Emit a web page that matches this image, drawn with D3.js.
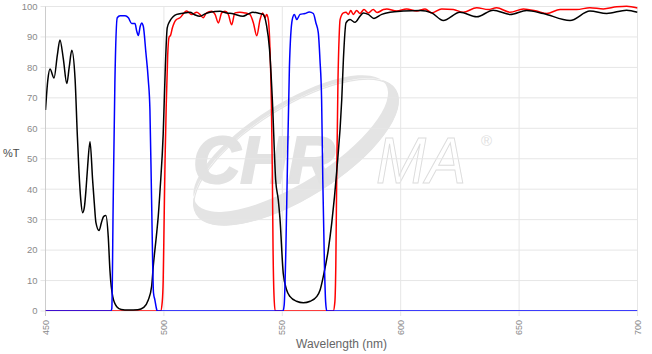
<!DOCTYPE html>
<html>
<head>
<meta charset="utf-8">
<script src="https://cdn.jsdelivr.net/npm/d3@7"></script>
<style>
  body { margin: 0; background: #fff; }
  svg { display: block; font-family: "Liberation Sans", Arial, sans-serif; }
</style>
</head>
<body>
<div id="chart"></div>
<script>
// tick values
const xTicks = [450, 500, 550, 600, 650, 700];
const yTicks = [0, 10, 20, 30, 40, 50, 60, 70, 80, 90, 100];

// black curve (wavelength, %T)
const blackCurve = [
  [450, 66], [451, 76], [451.9, 79.5], [453.6, 76.5], [455, 84], [456.1, 89], [457.5, 83],
  [459, 74.7], [460, 80], [461.1, 85.6], [462.5, 76], [463.4, 58.5], [464.1, 46.4],
  [464.9, 36.5], [465.7, 32.3], [466.4, 34], [467.1, 39.8], [467.7, 46.4], [468.8, 55.6],
  [469.9, 43], [470.6, 35.5], [471.3, 29], [472.6, 26.4], [473.6, 29], [474.5, 31],
  [475.5, 31.4], [476.5, 24.4], [477.2, 13.5], [478.4, 4.7], [480.1, 1.4], [482, 0.5],
  [485, 0.3], [489, 0.4], [491.5, 1.2], [493.4, 3.6], [494.8, 8], [495.5, 14.6], [497, 26],
  [497.6, 31], [498.4, 40], [499.7, 58], [500.6, 80], [501.4, 93], [502.5, 95.2],
  [505.4, 97.4], [508, 97.8], [511, 98.1], [513, 97.3], [515.2, 96.8], [517.5, 97.6],
  [519.5, 98.1], [523.7, 98.4], [526.5, 97.9], [529.2, 97.6], [533.4, 96.8], [535.5, 97.5],
  [537.6, 98.1], [540, 97.8], [541.9, 97.4], [543.3, 94], [544.6, 86], [545.8, 69.4],
  [547.2, 43], [548.3, 36.5], [549, 30.5], [550.4, 12.4], [551.8, 7], [553.3, 4.7],
  [556, 3.2], [558.9, 2.7], [561.8, 3.2], [564.5, 4.7], [566, 7], [567.3, 11.3],
  [569.4, 20], [570.9, 29], [573, 46], [575.1, 69.4], [575.8, 82.6], [576.9, 94.6],
  [578.6, 95.7], [580.7, 94.8], [582.8, 96.8], [584.2, 97.9], [586.3, 97.4], [588.7, 96.1],
  [592, 97.4], [595.5, 98.1], [601.1, 98.5], [608.1, 98.7], [613.1, 97.9], [618, 95.4],
  [625, 98.1], [632.1, 96.6], [639.1, 98.8], [646.2, 97.4], [653.2, 98.7], [660.2, 97.7],
  [671.5, 95.4], [679.9, 98.5], [687, 97.7], [695.4, 98.8], [700, 98.1]
];

// red curve
const redCurve = [
  [450, 0], [498.6, 0], [499.3, 3], [499.7, 10], [500.1, 30], [500.5, 50], [501, 68],
  [501.6, 84], [502.2, 90], [502.8, 90.5], [503.6, 93], [505, 95.5], [506.8, 96.3],
  [509.6, 98.5], [511.7, 97.4], [513.9, 98.1], [515.2, 97.4], [516.6, 96.3], [518, 97.9],
  [520.2, 98.4], [521.6, 97.4], [523, 94.6], [524.4, 97.9], [525.8, 98.4], [527.2, 97.4],
  [528.6, 94], [530, 97.9], [532.1, 98.1], [534.2, 97.9], [536.3, 97.4], [537.8, 94.6],
  [539.2, 90.4], [540.6, 95.7], [541.7, 97.9], [542.7, 96.3], [543.4, 97.4], [544.1, 95.7],
  [544.8, 86], [545.4, 68], [545.8, 45], [546.1, 20], [546.5, 5], [547, 0],
  [571.5, 0], [572.2, 3], [572.6, 15], [573, 46], [573.5, 75], [574, 90], [574.4, 95.7],
  [575.8, 97.9], [576.9, 98.1], [577.9, 97.4], [578.9, 98.7], [580, 97.4], [581.4, 98.7],
  [582.8, 97.7], [584.5, 99], [586.3, 97.9], [588.4, 99], [590, 98], [592.7, 99],
  [594.1, 99.2], [598.3, 98.5], [602.5, 99.2], [606.8, 98.5], [610.3, 99.2], [613.1, 97.9],
  [617.3, 99.2], [622.2, 99], [626.4, 98.1], [632.1, 99.6], [637, 99], [640.5, 99.6],
  [646.2, 98.1], [651.8, 99.2], [657.4, 98.5], [661.7, 97.7], [667.3, 99], [674.3, 99],
  [679.9, 99.6], [685.6, 99.2], [691.2, 99.9], [695.4, 100.1], [700, 99.5]
];

// blue curve
const blueCurve = [
  [450, 0], [477.5, 0], [478, 0.8], [478.6, 36.5], [479.3, 75], [480.3, 96.3], [481.5, 97],
  [483.6, 97], [485, 96.3], [486.4, 94.4], [487.8, 94.4], [488.5, 92], [489.2, 90.5],
  [490, 93.5], [490.6, 94.6], [491.3, 93.5], [492.4, 84.8], [493.4, 76], [494.1, 66],
  [494.8, 36.5], [495.6, 6], [496.2, 3.6], [496.8, 1], [497.2, 0],
  [550.3, 0], [550.8, 2], [551.5, 20], [552.1, 45], [553, 80], [554.2, 95.7], [555.1, 97.4],
  [556.1, 95.7], [557.5, 97.4], [559.6, 97.7], [561.4, 98.2], [563.1, 97.7], [564.2, 94.6],
  [565.2, 91.4], [565.9, 82.6], [566.6, 69.4], [567.1, 43], [567.8, 15], [568.3, 3],
  [568.8, 0], [700, 0]
];

const margin = { top: 6.5, right: 14.5, bottom: 43, left: 45.5 };
const W = 652, H = 354;
const width = W - margin.left - margin.right;
const height = H - margin.top - margin.bottom;

const svg = d3.select("#chart").append("svg")
  .attr("width", W)
  .attr("height", H);
const defs = svg.append("defs");

// watermark
const wm = svg.append("g");
const sw = wm.append("g").attr("transform", "translate(296,152) rotate(-32)");
sw.append("path")
  .attr("fill-rule", "evenodd")
  .attr("fill", "#e4e4e4")
  .attr("d", "M-118,0 A118,46 0 1,0 118,0 A118,46 0 1,0 -118,0 Z " +
             "M-112,-10 A112,40 0 1,0 112,-10 A112,40 0 1,0 -112,-10 Z");
sw.append("ellipse")
  .attr("rx", 117).attr("ry", 45)
  .attr("fill", "none").attr("stroke", "#e4e4e4").attr("stroke-width", 1.2);
wm.append("text")
  .attr("x", 193).attr("y", 183)
  .attr("font-size", 66).attr("font-weight", "bold").attr("font-style", "italic")
  .attr("fill", "#e2e2e2").attr("stroke", "#e2e2e2").attr("stroke-width", 2)
  .attr("textLength", 142).attr("lengthAdjust", "spacingAndGlyphs")
  .text("CHR");
wm.append("text")
  .attr("x", 376).attr("y", 183)
  .attr("font-size", 64).attr("font-style", "italic")
  .attr("fill", "#fff").attr("stroke", "#dcdcdc").attr("stroke-width", 1)
  .attr("textLength", 90).attr("lengthAdjust", "spacingAndGlyphs")
  .text("MA");
wm.append("text")
  .attr("x", 481).attr("y", 146)
  .attr("font-size", 15)
  .attr("fill", "#e0e0e0")
  .text("®");

const g = svg.append("g")
  .attr("transform", `translate(${margin.left},${margin.top})`);

const x = d3.scaleLinear().domain([450, 700]).range([0, width]);
const y = d3.scaleLinear().domain([0, 100]).range([height, 0]);

// grid + ticks
g.append("g")
  .selectAll("line")
  .data(yTicks)
  .join("line")
  .attr("x1", -5).attr("x2", width)
  .attr("y1", d => y(d)).attr("y2", d => y(d))
  .attr("stroke", "#e6e6e6");

g.append("g")
  .selectAll("line")
  .data(xTicks)
  .join("line")
  .attr("x1", d => x(d)).attr("x2", d => x(d))
  .attr("y1", 0).attr("y2", height + 5)
  .attr("stroke", d => d === 450 ? "#cccccc" : "#e6e6e6");

g.append("g")
  .selectAll("text")
  .data(yTicks)
  .join("text")
  .attr("x", -8).attr("y", d => y(d))
  .attr("dy", "0.35em")
  .attr("text-anchor", "end")
  .attr("font-size", 9.5)
  .attr("fill", "#8a8a8a")
  .text(d => d);

g.append("g")
  .selectAll("text")
  .data(xTicks)
  .join("text")
  .attr("transform", d => `translate(${x(d)},${height + 9}) rotate(-90)`)
  .attr("dy", "0.35em")
  .attr("text-anchor", "end")
  .attr("font-size", 9)
  .attr("fill", "#8a8a8a")
  .text(d => d);

svg.append("text")
  .attr("x", 3).attr("y", 157)
  .attr("font-size", 11)
  .attr("fill", "#4a4a4a")
  .text("%T");

svg.append("text")
  .attr("x", margin.left + width / 2).attr("y", 348)
  .attr("text-anchor", "middle")
  .attr("font-size", 12)
  .attr("fill", "#666")
  .text("Wavelength (nm)");

// curves
defs.append("clipPath").attr("id", "plot")
  .append("rect").attr("x", 0).attr("y", -2).attr("width", width).attr("height", height + 2);

const line = d3.line()
  .x(d => x(d[0]))
  .y(d => y(d[1]))
  .curve(d3.curveMonotoneX);

const curves = g.append("g").attr("clip-path", "url(#plot)");
[[redCurve, "#ff0000"], [blackCurve, "#000000"], [blueCurve, "#0000ff"]].forEach(([data, color]) => {
  curves.append("path")
    .datum(data)
    .attr("fill", "none")
    .attr("stroke", color)
    .attr("stroke-width", 1.5)
    .attr("d", line);
});
</script>
</body>
</html>
